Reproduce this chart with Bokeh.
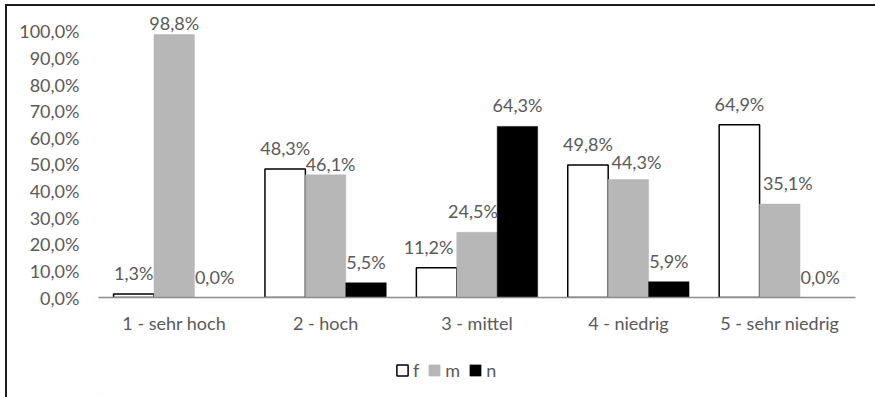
from bokeh.plotting import figure
from bokeh.models import (ColumnDataSource, FactorRange, Range1d, FixedTicker,
                          LabelSet, Legend, LegendItem)
from bokeh.transform import dodge
from bokeh.core.properties import value
from bokeh.layouts import column
from bokeh.embed import file_html
from bokeh.resources import INLINE

categories = ["1 - sehr hoch", "2 - hoch", "3 - mittel", "4 - niedrig", "5 - sehr niedrig"]
f_vals = [1.3, 48.3, 11.2, 49.8, 64.9]
m_vals = [98.8, 46.1, 24.5, 44.3, 35.1]
n_vals = [0.0, 5.5, 64.3, 5.9, 0.0]
y_ticks = [0, 10, 20, 30, 40, 50, 60, 70, 80, 90, 100]
series_names = ["f", "m", "n"]

# label nudges in screen pixels (dx right, dy up), as Excel placed them to avoid overlaps
label_dx = {"f": [0, 0, -8, 0, 0], "m": [0, 5, -4, 8, 8], "n": [0, 0, 0, 0, 0]}
label_dy = {"f": [0, 0, 0, 0, 0], "m": [-9, -10, 0, -3, 0], "n": [0, 0, 0, 0, 0]}

FONT = "Lato"
TXT = "#595959"
FS = "18px"

def pct(v):
    return f"{v:.1f}%".replace(".", ",")

data = dict(cat=categories, f=f_vals, m=m_vals, n=n_vals)
for s, vals in zip(series_names, (f_vals, m_vals, n_vals)):
    data[s + "l"] = [pct(v) for v in vals]
    data[s + "dx"] = label_dx[s]
    data[s + "dy"] = [14 + d for d in label_dy[s]]
src = ColumnDataSource(data)

p = figure(x_range=FactorRange(*categories, range_padding=0),
           y_range=Range1d(0, 108.6),
           width=868, height=341, output_backend="svg", toolbar_location=None,
           min_border_left=91, min_border_right=20, min_border_top=2, min_border_bottom=50)
p.outline_line_color = None
p.grid.visible = False

w = 0.267
styles = [("f", "white", "black", 1.5, -w), ("m", "#b7b7b7", "#b7b7b7", 0.5, 0.0),
          ("n", "black", "black", 0.5, w)]
for key, fill, line, lw, off in styles:
    p.vbar(x=dodge("cat", off, range=p.x_range), top=key, width=w, source=src,
           fill_color=fill, line_color=line, line_width=lw)
    lab = LabelSet(x=dodge("cat", off, range=p.x_range), y=key, text=key + "l", source=src,
                   x_offset=key + "dx", y_offset=key + "dy",
                   text_align="center", text_baseline="alphabetic",
                   text_font=value(FONT), text_font_size=value(FS), text_color=TXT)
    p.add_layout(lab)

p.yaxis.ticker = FixedTicker(ticks=y_ticks)
p.yaxis.major_label_overrides = {t: pct(t) for t in y_ticks}
p.yaxis.axis_line_color = None
p.yaxis.major_tick_line_color = None
p.yaxis.minor_tick_line_color = None
p.yaxis.major_label_standoff = 13
p.xaxis.axis_line_color = "#8c8c8c"
p.xaxis.axis_line_width = 1.5
p.xaxis.major_tick_line_color = None
p.xaxis.major_label_standoff = 8
for ax in (p.xaxis, p.yaxis):
    ax.major_label_text_font = FONT
    ax.major_label_text_font_size = FS
    ax.major_label_text_color = TXT

# legend strip below the chart (its frame is aligned with the chart's frame)
pl = figure(width=868, height=50, output_backend="svg", toolbar_location=None,
            x_axis_location=None, y_axis_location=None,
            min_border_left=0, min_border_right=0, min_border_top=0, min_border_bottom=0,
            x_range=Range1d(0, 1), y_range=Range1d(0, 1))
pl.outline_line_color = None
pl.grid.visible = False
items = []
for (key, fill, line, lw, off), name in zip(styles, series_names):
    # legend swatches: one off-screen bar per series so the legend can draw its glyph
    r = pl.vbar(x=[-5], top=[-5], bottom=[-6], width=0.1,
                fill_color=fill, line_color=line, line_width=lw if lw > 1 else 0.5)
    items.append(LegendItem(label=name, renderers=[r], index=0))
legend = Legend(items=items, orientation="horizontal", location=(297, 16),
                glyph_width=14, glyph_height=14, label_standoff=4, spacing=8,
                label_width=1, label_height=14,
                padding=0, margin=0, border_line_color=None, background_fill_alpha=0,
                label_text_font=FONT, label_text_font_size=FS, label_text_color=TXT)
pl.add_layout(legend, "center")

layout = column(p, pl, spacing=0, margin=(4, 0, 0, 5),
                styles={"border-left": "2px solid #1c1c1c", "border-top": "2px solid #1c1c1c"})

open("out.html", "w").write(file_html(layout, INLINE))
